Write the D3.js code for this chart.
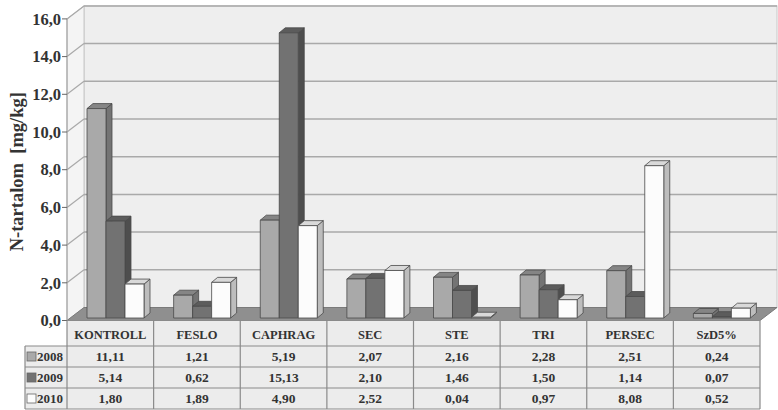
<!DOCTYPE html>
<html>
<head>
<meta charset="utf-8">
<script src="https://cdn.jsdelivr.net/npm/d3@7/dist/d3.min.js"></script>
<style>
  html, body { margin: 0; padding: 0; background: #ffffff; }
  svg { display: block; }
  text { font-family: "Liberation Serif", "DejaVu Serif", serif; font-weight: bold; fill: #333; }
</style>
</head>
<body>
<svg id="chart" width="778" height="410"></svg>
<script>
// Treatments and yearly N content (mg/kg)
const categories = ["KONTROLL", "FESLO", "CAPHRAG", "SEC", "STE", "TRI", "PERSEC", "SzD5%"];
const years = ["2008", "2009", "2010"];
const values2008 = [11.11, 1.21, 5.19, 2.07, 2.16, 2.28, 2.51, 0.24];
const values2009 = [5.14, 0.62, 15.13, 2.10, 1.46, 1.50, 1.14, 0.07];
const values2010 = [1.80, 1.89, 4.90, 2.52, 0.04, 0.97, 8.08, 0.52];
const yTicks = [0, 2, 4, 6, 8, 10, 12, 14, 16];
const yTitle = "N-tartalom  [mg/kg]";

const seriesValues = { "2008": values2008, "2009": values2009, "2010": values2010 };

// face colours per series: front, top, side
const palette = {
  "2008": { front: "#a9a9a9", top: "#858585", side: "#747474" },
  "2009": { front: "#727272", top: "#5c5c5c", side: "#4e4e4e" },
  "2010": { front: "#fcfcfc", top: "#d9d9d9", side: "#bdbdbd" }
};

const svg = d3.select("#chart");

// plot frame (front plane) and wall depth
const left = 67, right = 760;
const depthX = 17, depthY = -13;
const y = d3.scaleLinear().domain([0, 16]).range([320.5, 18.9]);
const x = d3.scaleBand().domain(categories).range([left, right]).paddingInner(0).paddingOuter(0);
const xIn = d3.scaleBand().domain(years).range([20, 77]).padding(0);

const y0 = y(0), yTop = y(16);

// back wall
svg.append("rect")
  .attr("x", left + depthX).attr("y", yTop + depthY)
  .attr("width", right - left).attr("height", y0 - yTop)
  .attr("fill", "#eeeeee").attr("stroke", "#c8c8c8").attr("stroke-width", 1);

// left side wall
svg.append("polygon")
  .attr("points", [[left, y0], [left, yTop], [left + depthX, yTop + depthY], [left + depthX, y0 + depthY]].join(" "))
  .attr("fill", "#f4f4f4").attr("stroke", "#c8c8c8").attr("stroke-width", 1);

// gridlines on back wall and side wall
const grid = svg.append("g");
yTicks.filter(t => t > 0).forEach(t => {
  grid.append("line")
    .attr("x1", left + depthX).attr("x2", right + depthX)
    .attr("y1", y(t) + depthY).attr("y2", y(t) + depthY)
    .attr("stroke", "#a9a9a9").attr("stroke-width", 1.5);
  grid.append("line")
    .attr("x1", left).attr("x2", left + depthX)
    .attr("y1", y(t)).attr("y2", y(t) + depthY)
    .attr("stroke", "#a9a9a9").attr("stroke-width", 1.2);
});

// floor
svg.append("polygon")
  .attr("points", [[left, y0], [right, y0], [right + depthX, y0 + depthY], [left + depthX, y0 + depthY]].join(" "))
  .attr("fill", "#8f8f8f").attr("stroke", "#7a7a7a").attr("stroke-width", 1);

// front axis line
svg.append("line")
  .attr("x1", left).attr("x2", left).attr("y1", yTop).attr("y2", y0)
  .attr("stroke", "#9a9a9a").attr("stroke-width", 1);

// y axis ticks and labels
const fmt1 = d => d3.format(".1f")(d).replace(".", ",");
const fmt2 = d => d3.format(".2f")(d).replace(".", ",");
const axisG = svg.append("g");
yTicks.forEach(t => {
  axisG.append("line")
    .attr("x1", left - 5).attr("x2", left).attr("y1", y(t)).attr("y2", y(t))
    .attr("stroke", "#666").attr("stroke-width", 1);
  axisG.append("text")
    .attr("x", left - 6).attr("y", y(t)).attr("dy", "0.35em")
    .attr("text-anchor", "end").attr("font-size", 16.5)
    .text(fmt1(t));
});

// y axis title
svg.append("text")
  .attr("transform", `translate(23, ${(yTop + y0) / 2 + 2}) rotate(-90)`)
  .attr("text-anchor", "middle").attr("font-size", 18.5)
  .attr("xml:space", "preserve")
  .text(yTitle);

// 3D bars
const barW = xIn.bandwidth();
const bdx = 6, bdy = -5, sink = 2.5;
const bars = svg.append("g");
categories.forEach((c, i) => {
  years.forEach(yr => {
    const v = seriesValues[yr][i];
    const col = palette[yr];
    const bx = x(c) + xIn(yr);
    const top = y(v) - sink, bottom = y0 - sink;
    const g = bars.append("g").attr("stroke", "#4a4a4a").attr("stroke-width", 0.8).attr("stroke-linejoin", "round");
    g.append("polygon")
      .attr("points", [[bx + barW, top], [bx + barW + bdx, top + bdy], [bx + barW + bdx, bottom + bdy], [bx + barW, bottom]].join(" "))
      .attr("fill", col.side);
    g.append("polygon")
      .attr("points", [[bx, top], [bx + barW, top], [bx + barW + bdx, top + bdy], [bx + bdx, top + bdy]].join(" "))
      .attr("fill", col.top);
    g.append("rect")
      .attr("x", bx).attr("y", top).attr("width", barW).attr("height", bottom - top)
      .attr("fill", col.front);
  });
});

// data table
const headTop = y0, headBot = 346;
const rowH = 21;
const legendLeft = 25;
const tbl = svg.append("g");
const tableBottom = headBot + rowH * years.length;

tbl.append("rect")
  .attr("x", left).attr("y", headTop).attr("width", right - left).attr("height", tableBottom - headTop)
  .attr("fill", "#ececec");
tbl.append("rect")
  .attr("x", legendLeft).attr("y", headBot).attr("width", left - legendLeft).attr("height", tableBottom - headBot)
  .attr("fill", "#ececec");

const lineCol = "#8a8a8a";
// horizontal rules
tbl.append("line").attr("x1", left).attr("x2", right).attr("y1", headTop).attr("y2", headTop)
  .attr("stroke", lineCol).attr("stroke-width", 1.2);
[0, 1, 2, 3].forEach(k => {
  const yy = headBot + k * rowH;
  tbl.append("line").attr("x1", legendLeft).attr("x2", right).attr("y1", yy).attr("y2", yy)
    .attr("stroke", lineCol).attr("stroke-width", 1.2);
});
// vertical rules
categories.concat([null]).forEach(c => {
  const xx = c === null ? right : x(c);
  tbl.append("line").attr("x1", xx).attr("x2", xx).attr("y1", headTop).attr("y2", tableBottom)
    .attr("stroke", lineCol).attr("stroke-width", 1.2);
});
tbl.append("line").attr("x1", legendLeft).attr("x2", legendLeft).attr("y1", headBot).attr("y2", tableBottom)
  .attr("stroke", lineCol).attr("stroke-width", 1.2);

// header labels
categories.forEach(c => {
  tbl.append("text")
    .attr("x", x(c) + x.bandwidth() / 2).attr("y", (headTop + headBot) / 2 + 1).attr("dy", "0.35em")
    .attr("text-anchor", "middle").attr("font-size", 12.5)
    .text(c);
});

// legend keys and values
years.forEach((yr, r) => {
  const cy = headBot + r * rowH + rowH / 2;
  tbl.append("rect")
    .attr("x", legendLeft + 2).attr("y", cy - 4.5).attr("width", 9).attr("height", 9)
    .attr("fill", palette[yr].front).attr("stroke", "#666").attr("stroke-width", 0.8);
  tbl.append("text")
    .attr("x", legendLeft + 12).attr("y", cy).attr("dy", "0.35em")
    .attr("font-size", 13).text(yr);
  categories.forEach((c, i) => {
    tbl.append("text")
      .attr("x", x(c) + x.bandwidth() / 2).attr("y", cy).attr("dy", "0.35em")
      .attr("text-anchor", "middle").attr("font-size", 13.5)
      .text(fmt2(seriesValues[yr][i]));
  });
});
</script>
</body>
</html>
